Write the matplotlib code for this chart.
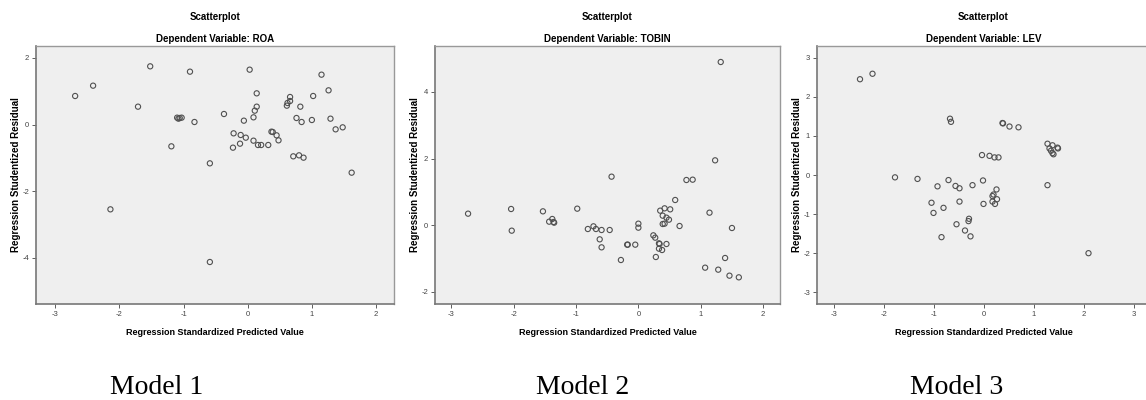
import matplotlib
matplotlib.use("Agg")
import matplotlib.pyplot as plt

# Model 1 (ROA)
roa_x = [-2.69, -2.41, -1.52, -1.71, -2.14, -0.90, -1.19, -1.10, -1.08, -1.06, -1.03,
         -0.83, -0.59, -0.59, -0.37, -0.22, -0.23, -0.11, -0.12, -0.06, -0.03, 0.03,
         0.14, 0.14, 0.11, 0.09, 0.09, 0.16, 0.21, 0.32, 0.37, 0.39, 0.45, 0.48,
         0.61, 0.62, 0.66, 0.66, 0.82, 0.76, 0.84, 0.71, 0.80, 0.87, 1.00, 1.02,
         1.15, 1.26, 1.29, 1.37, 1.48, 1.62]
roa_y = [0.86, 1.17, 1.75, 0.54, -2.54, 1.59, -0.65, 0.21, 0.18, 0.20, 0.21,
         0.08, -1.16, -4.12, 0.32, -0.26, -0.69, -0.31, -0.57, 0.12, -0.39, 1.65,
         0.94, 0.54, 0.42, 0.22, -0.48, -0.61, -0.61, -0.61, -0.21, -0.22, -0.32, -0.47,
         0.57, 0.65, 0.71, 0.83, 0.54, 0.20, 0.08, -0.95, -0.92, -0.99, 0.14, 0.86,
         1.50, 1.03, 0.18, -0.14, -0.08, -1.44]

# Model 2 (TOBIN)
tobin_x = [-2.73, -2.04, -2.03, -1.53, -1.43, -1.38, -1.36, -1.35, -0.98, -0.81,
           -0.72, -0.68, -0.62, -0.59, -0.59, -0.46, -0.43, -0.28, -0.18, -0.17,
           -0.05, 0.0, 0.0, 0.24, 0.27, 0.28, 0.33, 0.34, 0.33, 0.38, 0.45, 0.35,
           0.42, 0.39, 0.39, 0.42, 0.45, 0.49, 0.51, 0.59, 0.66, 0.77, 0.87, 1.07,
           1.14, 1.23, 1.28, 1.32, 1.39, 1.46, 1.50, 1.61]
tobin_y = [0.35, 0.49, -0.16, 0.42, 0.11, 0.19, 0.10, 0.08, 0.50, -0.11,
           -0.03, -0.11, -0.42, -0.14, -0.66, -0.14, 1.46, -1.04, -0.58, -0.58,
           -0.58, 0.05, -0.07, -0.30, -0.37, -0.95, -0.54, -0.56, -0.70, -0.74, -0.56, 0.44,
           0.51, 0.29, 0.04, 0.05, 0.23, 0.17, 0.48, 0.76, -0.02, 1.36, 1.37, -1.27,
           0.38, 1.95, -1.33, 4.90, -0.98, -1.51, -0.08, -1.56]

# Model 3 (LEV)
lev_x = [-2.48, -2.23, -1.78, -1.33, -0.93, -1.05, -1.01, -0.81, -0.85, -0.71,
         -0.68, -0.66, -0.57, -0.49, -0.49, -0.55, -0.38, -0.31, -0.30, -0.27,
         -0.23, -0.04, -0.02, -0.01, 0.11, 0.17, 0.19, 0.17, 0.21, 0.22, 0.25,
         0.26, 0.29, 0.37, 0.38, 0.51, 0.69, 1.27, 1.37, 1.31, 1.34, 1.37, 1.39,
         1.47, 1.48, 1.27, 2.09]
lev_y = [2.45, 2.59, -0.06, -0.10, -0.29, -0.71, -0.97, -0.84, -1.59, -0.13,
         1.44, 1.36, -0.28, -0.34, -0.68, -1.26, -1.42, -1.18, -1.12, -1.57,
         -0.26, 0.51, -0.14, -0.74, 0.49, -0.54, -0.50, -0.68, 0.45, -0.74, -0.37,
         -0.62, 0.45, 1.33, 1.32, 1.24, 1.22, 0.80, 0.76, 0.68, 0.62, 0.56, 0.53,
         0.70, 0.68, -0.26, -2.00]

dep_vars = ["ROA", "TOBIN", "LEV"]
model_names = ["Model 1", "Model 2", "Model 3"]
xs = [roa_x, tobin_x, lev_x]
ys = [roa_y, tobin_y, lev_y]
xlims = [(-3.3, 2.28), (-3.26, 2.27), (-3.34, 3.32)]
ylims = [(-5.38, 2.36), (-2.36, 5.38), (-3.3, 3.3)]
xticks = [range(-3, 3), range(-3, 3), range(-3, 4)]
yticks = [range(-4, 3, 2), range(-2, 5, 2), range(-3, 4)]

# axes boxes in figure pixels (left, right)
boxes = [(36, 394), (435, 780), (817, 1150)]
model_cx = [157, 583, 957]

plt.rcParams['font.family'] = ['Liberation Sans', 'DejaVu Sans']

fig = plt.figure(figsize=(11.46, 4.0), dpi=100)
W, H = 1146, 400
top, bottom = 46, 304

for i in range(3):
    l, r = boxes[i]
    ax = fig.add_axes([l / W, 1 - bottom / H, (r - l) / W, (bottom - top) / H])
    ax.set_facecolor('#efefef')
    ax.scatter(xs[i], ys[i], s=14, facecolors='none', edgecolors='#505050',
               linewidths=0.8, zorder=3)
    ax.set_xlim(*xlims[i])
    ax.set_ylim(*ylims[i])
    ax.set_xticks(list(xticks[i]))
    ax.set_yticks(list(yticks[i]))
    ax.set_xticklabels([str(t) for t in xticks[i]])
    ax.set_yticklabels([str(t) for t in yticks[i]])
    ax.tick_params(axis='both', labelsize=5.5, length=3, width=0.6,
                   colors='#444444', pad=2)
    for side in ['top', 'right']:
        ax.spines[side].set_color('#999999')
        ax.spines[side].set_linewidth(1.0)
    for side in ['bottom', 'left']:
        ax.spines[side].set_color('#777777')
        ax.spines[side].set_linewidth(1.2)
    ax.set_xlabel('Regression Standardized Predicted Value', fontsize=6.5,
                  fontweight='bold', labelpad=7)
    ax.set_ylabel('Regression Studentized Residual', fontsize=7,
                  fontweight='bold', labelpad=1)
    ax.set_title('Dependent Variable: ' + dep_vars[i], fontsize=7,
                 fontweight='bold', pad=3)
    cx = (l + r) / 2 / W
    fig.text(cx, 1 - 17 / H, 'Scatterplot', ha='center', va='center',
             fontsize=7, fontweight='bold')
    fig.text(model_cx[i] / W, 1 - 388 / H, model_names[i], ha='center',
             va='center', fontsize=20, family=['Liberation Serif', 'DejaVu Serif'])

fig.savefig('out.png', dpi=100)
